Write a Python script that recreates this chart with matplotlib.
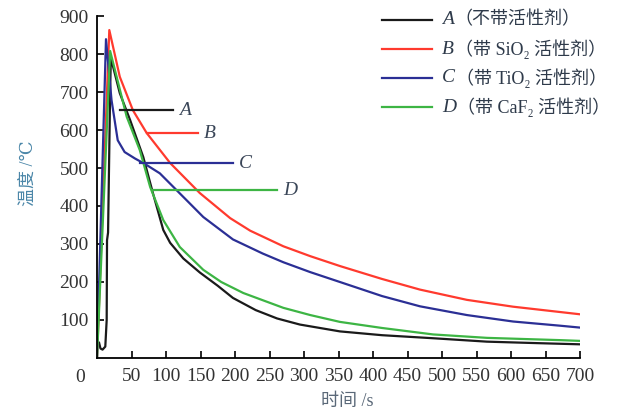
import matplotlib
matplotlib.use("Agg")
import matplotlib.pyplot as plt
from matplotlib.lines import Line2D

plt.rcParams['font.family'] = ['Liberation Serif', 'DejaVu Serif', 'Noto Sans CJK SC']

# 读取的曲线数据 (时间 s, 温度 ℃)
t_A = [3, 5, 8, 12, 14, 14.5, 16, 19, 20, 33, 48, 67, 81, 96, 106, 125, 149, 175, 197,
       230, 261, 294, 352, 413, 487, 565, 640, 700]
T_A = [40, 25, 22, 30, 100, 310, 330, 700, 790, 697, 626, 529, 434, 337, 303, 262, 225,
       190, 158, 126, 104, 88, 70, 60, 52, 43, 39, 36]

t_B = [0, 17.8, 33, 52, 72, 106, 149, 193, 222, 270, 309, 352, 413, 468, 536, 603, 671, 700]
T_B = [0, 863, 740, 652, 592, 513, 434, 368, 335, 294, 268, 242, 208, 180, 153, 135, 121, 115]

t_C = [0, 13, 21, 30, 40, 55, 70, 91, 125, 154, 197, 240, 270, 309, 352, 413, 468, 536,
       603, 671, 700]
T_C = [0, 839, 679, 573, 542, 525, 510, 486, 424, 371, 312, 275, 252, 226, 200, 163, 136,
       113, 96, 85, 80]

t_D = [0, 19, 43, 62, 77, 96, 120, 154, 180, 212, 270, 309, 352, 413, 487, 565, 671, 700]
T_D = [0, 808, 635, 547, 450, 363, 292, 232, 200, 171, 132, 113, 95, 79, 62, 53, 47, 45]

# 标注横线: (起点, 终点, 温度, 字母)
marks = [(33, 110, 652, 'A'), (72, 146, 592, 'B'), (62, 197, 513, 'C'), (80, 261, 442, 'D')]

letters = ['A', 'B', 'C', 'D']
labels = ['（不带活性剂）', '（带 SiO₂ 活性剂）', '（带 TiO₂ 活性剂）', '（带 CaF₂ 活性剂）']
colors = ['#1a1a1a', '#ff3a2e', '#2b2f95', '#3db544']

xticks = list(range(50, 701, 50))
yticks = list(range(100, 901, 100))

fig = plt.figure(figsize=(6.3, 4.19), dpi=100)
ax = fig.add_axes([0.154, 0.1456, 0.7667, 0.8162])

for t, T, c in zip([t_A, t_B, t_C, t_D], [T_A, T_B, T_C, T_D], colors):
    ax.plot(t, T, color=c, lw=1.6)

for (x0, x1, y, name), c in zip(marks, colors):
    ax.plot([x0, x1], [y, y], color=c, lw=1.6)
    ax.text(x1 + 9, y, name, style='italic', fontsize=14, color='#3a4658',
            ha='left', va='center')

ax.set_xlim(0, 700)
ax.set_ylim(0, 900)
ax.set_xticks(xticks)
ax.set_yticks(yticks)
ax.tick_params(direction='in', length=5, width=1.2, labelsize=14,
               labelcolor='#333333')
ax.tick_params(axis='x', pad=7)
ax.tick_params(axis='y', pad=6)
for s in ['top', 'right']:
    ax.spines[s].set_visible(False)
for s in ['left', 'bottom']:
    ax.spines[s].set_linewidth(1.3)

ax.annotate('0', xy=(0, 0), xytext=(-12, -14), textcoords='offset points',
            ha='center', va='center', fontsize=14, color='#333333')

ax.set_xlabel('时间 /s', fontsize=13, color='#5a6878')
ax.xaxis.set_label_coords(0.518, -0.102)
ax.set_ylabel('温度 /℃', fontsize=13, color='#4a86a8')
ax.yaxis.set_label_coords(-0.124, 0.54)

# 图例 (手工绘制, 字母斜体)
for i, (let, lab, c) in enumerate(zip(letters, labels, colors)):
    yf = 1 - (20 + 29 * i) / 419
    fig.add_artist(Line2D([382 / 630, 432 / 630], [yf, yf], color=c, lw=1.6))
    t = fig.text(442 / 630, yf, let, style='italic', fontsize=14,
                 color='#2e3a4a', ha='left', va='center')
    ax.annotate(lab, xy=(1, 0.5), xycoords=t, xytext=(0.5, 0),
                textcoords='offset points', ha='left', va='center',
                fontsize=13, color='#2e3a4a', annotation_clip=False)

fig.savefig('out.png', dpi=100)
